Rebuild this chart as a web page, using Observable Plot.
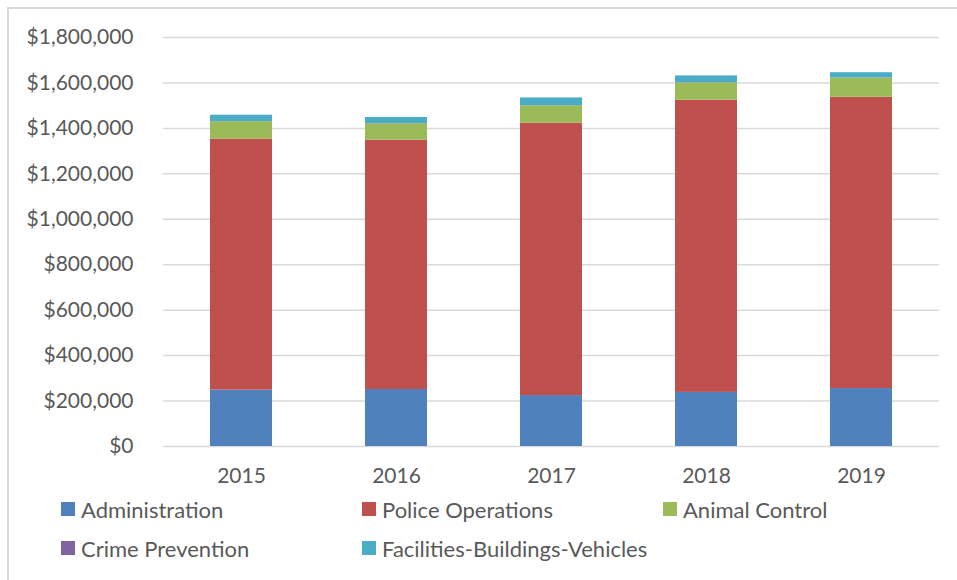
<!DOCTYPE html>
<html>
<head>
<meta charset="utf-8">
<script src="https://cdn.jsdelivr.net/npm/d3@7"></script>
<script src="https://cdn.jsdelivr.net/npm/@observablehq/plot@0.6"></script>
<style>
  body { margin: 0; background: #fff; font-family: Lato, "Liberation Sans", sans-serif; }
  #wrap { position: relative; width: 957px; height: 580px; overflow: hidden; }
  #frame { position: absolute; left: 7px; top: 7px; width: 1000px; height: 1000px; border-left: 2px solid #D9D9D9; border-top: 2px solid #D9D9D9; }
  #chart { position: absolute; left: 0; top: 0; }
  .leg { position: absolute; display: flex; align-items: center; font-size: 22px; color: #595959; white-space: nowrap; }
  .sw { width: 14px; height: 14px; margin-right: 6px; }
</style>
</head>
<body>
<div id="wrap">
  <div id="frame"></div>
  <div id="chart"></div>
  <div id="legend"></div>
</div>
<script>
const years = ["2015", "2016", "2017", "2018", "2019"];
const seriesNames = ["Administration", "Police Operations", "Animal Control", "Crime Prevention", "Facilities-Buildings-Vehicles"];
const colors = ["#4F81BD", "#C0504D", "#9BBB59", "#8064A2", "#4BACC6"];
const administration = [248000, 251000, 224000, 238000, 255000];
const policeOperations = [1104000, 1097000, 1199000, 1286000, 1282000];
const animalControl = [77000, 72000, 76000, 76000, 84000];
const crimePrevention = [1000, 1000, 1000, 1000, 1000];
const facilities = [28000, 27000, 34000, 30000, 23000];
const yTicks = [0, 200000, 400000, 600000, 800000, 1000000, 1200000, 1400000, 1600000, 1800000];

const seriesValues = [administration, policeOperations, animalControl, crimePrevention, facilities];
const data = [];
seriesNames.forEach((s, i) => years.forEach((y, j) => data.push({year: y, series: s, value: seriesValues[i][j]})));

const fmt = d => "$" + d3.format(",")(d);

const chart = Plot.plot({
  width: 957,
  height: 490,
  marginTop: 37,
  marginBottom: 44,
  marginLeft: 163,
  marginRight: 18,
  style: { fontFamily: "Lato, 'Liberation Sans', sans-serif", fontSize: "21px", color: "#595959", background: "transparent" },
  x: { domain: years, paddingInner: 0.6, paddingOuter: 0.3, label: null },
  y: { domain: [0, 1800000], label: null },
  color: { domain: seriesNames, range: colors },
  marks: [
    Plot.gridY(yTicks, { stroke: "#D9D9D9", strokeOpacity: 1, strokeWidth: 1.5 }),
    Plot.barY(data, Plot.stackY({ x: "year", y: "value", fill: "series", order: seriesNames })),
    Plot.axisY({ ticks: yTicks, tickFormat: fmt, tickSize: 0, tickPadding: 30, label: null, fill: "#595959" }),
    Plot.axisX({ tickSize: 0, tickPadding: 22, label: null, fill: "#595959" })
  ]
});
document.getElementById("chart").appendChild(chart);

const legendPos = [[61, 502], [362, 502], [663, 502], [61, 541], [362, 541]];
const legend = document.getElementById("legend");
seriesNames.forEach((s, i) => {
  const d = document.createElement("div");
  d.className = "leg";
  d.style.left = legendPos[i][0] + "px";
  d.style.top = (legendPos[i][1] - 6) + "px";
  d.style.height = "26px";
  d.innerHTML = `<span class="sw" style="background:${colors[i]}"></span><span>${s}</span>`;
  legend.appendChild(d);
});
</script>
</body>
</html>
